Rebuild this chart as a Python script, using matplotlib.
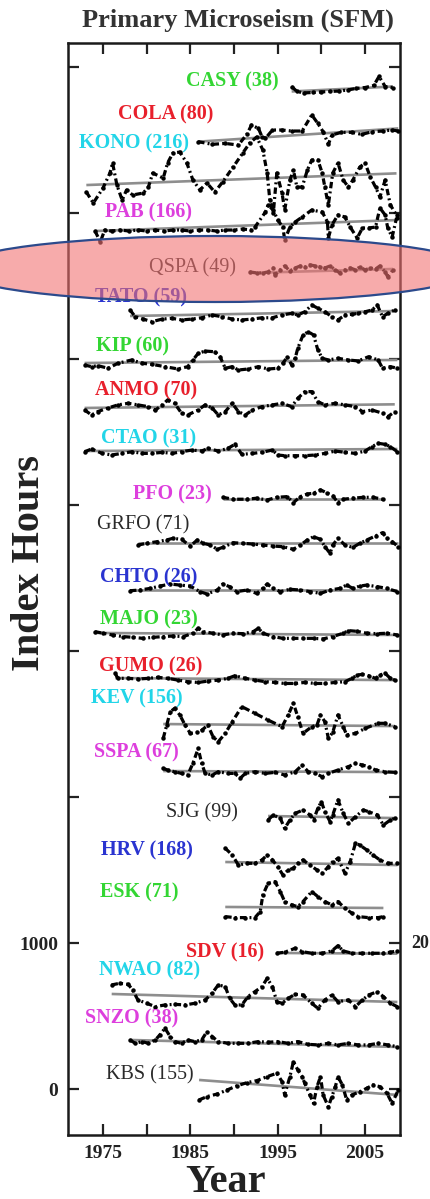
import matplotlib
matplotlib.use("Agg")
import matplotlib.pyplot as plt
from matplotlib.patches import Ellipse

plt.rcParams.update({
    "font.family": ["Liberation Serif", "DejaVu Serif"],
    "font.weight": "bold",
})

# stations, top to bottom: name, number of events
names = ["CASY", "COLA", "KONO", "PAB", "QSPA", "TATO", "KIP", "ANMO", "CTAO", "PFO",
         "GRFO", "CHTO", "MAJO", "GUMO", "KEV", "SSPA", "SJG", "HRV", "ESK", "SDV",
         "NWAO", "SNZO", "KBS"]
counts = [38, 80, 216, 166, 49, 59, 60, 70, 31, 23, 71, 26, 23, 26, 156, 67, 99, 168, 71, 16, 82, 38, 155]

# stacking offset of each trace (index hours at the start of its trend line)
offsets = [6833, 6489, 6192, 5877, 5590, 5295, 4973, 4665, 4370, 4042, 3740, 3418,
           3124, 2815, 2500, 2178, 1870, 1555, 1247, 932, 651, 336, 62]
# change of the fitted trend over the record (index hours)
trend_change = [34, 91, 80, 75, 27, 34, 21, 25, 14, 0, 0, 0, -14, -14, -14, -7, -14,
                -21, -7, -5, -55, -48, -103]

casy_years = [1996.6, 1997.2, 1998.0, 1999.0, 2000.0, 2001.0, 2002.0, 2003.0, 2004.0, 2005.0,
              2006.0, 2006.6, 2007.3, 2008.2]
casy_anom = [34, 0, -10, -7, -3, 0, 3, 10, 21, 27, 41, 103, 34, 27]

cola_years = [1985.9, 1987.5, 1989.0, 1990.5, 1991.5, 1992.0, 1992.8, 1993.2, 1993.6, 1994.4,
              1995.5, 1996.6, 1997.8, 1998.9, 1999.6, 2000.2, 2000.8, 2001.2, 2002.3, 2003.5,
              2004.6, 2005.8, 2007.0, 2008.1, 2008.8]
cola_anom = [0, -18, -12, -23, 53, 114, 91, 34, 23, 80, 80, 73, 73, 183, 125, 68, -18, 46, 64,
             64, 50, 68, 73, 80, 73]

kono_years = [1973.1, 1973.9, 1975.0, 1975.8, 1976.1, 1976.6, 1977.2, 1977.7, 1978.4, 1979.6,
              1980.2, 1980.7, 1981.9, 1982.4, 1983.0, 1983.8, 1984.6, 1985.3, 1986.1, 1986.9,
              1987.8, 1988.7, 1989.9, 1991.0, 1991.8, 1992.6, 1993.3, 1993.8, 1994.1, 1994.5,
              1994.9, 1995.5, 1995.8, 1996.4, 1996.8, 1997.2, 1997.8, 1998.4, 1998.9, 1999.6,
              2000.1, 2000.4, 2000.8, 2001.3, 2001.9, 2002.5, 2003.1, 2003.6, 2004.4, 2005.0,
              2005.6, 2006.2, 2006.7, 2007.3, 2007.9, 2008.6]
kono_anom = [-48, -123, -21, 82, 151, 0, -103, -34, -68, -55, -14, 82, 48, 151, 219, 226, 151,
             34, -34, 14, -48, 21, 123, 219, 288, 329, 240, 82, -103, -192, 82, -55, -171, 34,
             103, -14, -14, 103, 171, 171, 82, -14, -137, 82, 151, 34, -14, 34, 123, 151, 55,
             -14, -82, 34, -137, -206]

pab_years = [1974.1, 1974.7, 1975.2, 1976.0, 1977.0, 1978.0, 1979.0, 1980.0, 1981.0, 1982.0,
             1983.0, 1984.0, 1985.0, 1986.0, 1987.0, 1988.0, 1989.0, 1990.0, 1991.0, 1992.0,
             1992.4, 1993.6, 1993.9, 1994.5, 1995.0, 1995.6, 1995.8, 1996.4, 1997.0, 1997.8,
             1998.9, 2000.1, 2000.7, 2000.8, 2001.2, 2001.9, 2002.7, 2003.3, 2004.1, 2004.7,
             2005.4, 2006.2, 2006.7, 2007.3, 2007.6, 2008.1, 2008.6]
pab_anom = [0, -75, 7, 0, 7, 0, 7, 0, 7, 0, 7, 7, 0, 7, 7, 0, 7, 7, 14, 7, 27, 130, 178, 144,
            75, 27, -62, 27, 62, 96, 144, 130, 62, -48, 41, 110, 96, 27, -48, 21, 21, 27, 158,
            110, 21, -41, 89]

qspa_years = [1991.8, 1992.6, 1993.3, 1993.9, 1994.5, 1994.7, 1995.3, 1995.8, 1996.4, 1997.0,
              1997.6, 1998.1, 1998.7, 1999.3, 1999.9, 2000.4, 2001.0, 2001.6, 2002.1, 2002.7,
              2003.3, 2003.9, 2004.4, 2005.0, 2005.6, 2006.2, 2006.7, 2007.3, 2007.6, 2008.2]
qspa_anom = [7, 0, 0, 7, 34, -14, 21, 48, 14, 34, 48, 41, 55, 48, 41, 34, 48, 21, 0, 21, 34,
             21, 41, 21, 34, 27, 48, 7, -27, 21]

tato_years = [1978.1, 1978.7, 1979.6, 1980.6, 1981.8, 1982.9, 1984.0, 1985.2, 1986.3, 1987.5,
              1988.6, 1989.8, 1990.9, 1992.1, 1993.2, 1994.4, 1995.5, 1996.6, 1997.3, 1998.1,
              1998.9, 1999.6, 2000.4, 2001.2, 2001.9, 2002.7, 2003.5, 2004.2, 2005.0, 2005.8,
              2006.4, 2007.0, 2007.6, 2008.4]
tato_anom = [41, -5, -21, -39, -21, -16, -27, -21, -12, 7, -5, -21, -27, -21, -12, -12, 7, 18,
             7, 29, 75, 53, 29, -5, -27, 7, 12, 18, 29, 41, 75, -5, 18, 41]

kip_years = [1972.9, 1973.7, 1974.4, 1975.6, 1976.7, 1978.3, 1979.5, 1980.6, 1982.1, 1983.6,
             1984.7, 1985.3, 1985.9, 1986.7, 1987.8, 1988.4, 1989.0, 1989.8, 1990.5, 1991.6,
             1992.8, 1993.9, 1995.0, 1995.6, 1996.1, 1996.6, 1997.0, 1997.3, 1997.9, 1998.5,
             1999.1, 1999.6, 2000.1, 2000.8, 2001.9, 2003.1, 2004.2, 2005.4, 2006.5, 2007.0,
             2007.9, 2008.7]
kip_anom = [-14, -25, -18, -36, -2, 21, -2, -9, -25, -41, -25, 21, 66, 82, 77, 43, -36, -25,
            -48, -41, -25, -41, -36, -2, 43, -14, 32, 101, 192, 214, 192, 89, 32, 21, 32, 21,
            14, 43, 21, -36, -25, -36]

anmo_years = [1972.9, 1973.7, 1974.4, 1975.6, 1976.7, 1977.9, 1979.0, 1980.2, 1981.0, 1981.8,
              1982.4, 1983.2, 1984.0, 1984.7, 1985.9, 1986.7, 1987.5, 1988.2, 1989.0, 1989.8,
              1990.5, 1991.3, 1992.1, 1993.2, 1994.4, 1995.5, 1996.6, 1997.3, 1998.1, 1998.9,
              1999.6, 2000.4, 2001.6, 2002.7, 2003.9, 2004.7, 2005.8, 2007.0, 2007.6, 2008.4]
anmo_anom = [-14, -48, -25, 0, 21, 32, 21, 9, -14, 21, 55, 32, -36, -48, -14, 21, 0, -48, -25,
             32, -25, -48, -14, 9, 21, 32, 9, 66, 112, 112, 43, 21, 32, 21, 9, -25, -14, -36,
             -60, -25]

ctao_years = [1972.9, 1973.7, 1974.9, 1976.0, 1977.2, 1978.3, 1979.5, 1980.6, 1981.8, 1982.9,
              1984.0, 1985.2, 1986.3, 1987.0, 1988.2, 1989.3, 1990.1, 1990.9, 1992.1, 1993.2,
              1994.4, 1995.0, 1995.8, 1997.0, 1998.1, 1999.3, 2000.4, 2001.6, 2002.7, 2003.9,
              2005.0, 2005.8, 2006.5, 2007.3, 2007.9, 2008.7]
ctao_anom = [-5, 14, -16, -27, -16, -5, -16, -16, -9, -16, -5, 7, 0, 18, 0, 18, 46, -23, -16,
             -9, 7, -27, -32, -32, -32, -27, -16, 0, -9, -16, 0, 30, 53, 46, 30, -5]

pfo_years = [1988.7, 1989.9, 1991.5, 1992.6, 1993.8, 1994.9, 1996.1, 1996.8, 1997.6, 1998.4,
             1999.1, 1999.9, 2000.7, 2001.3, 2001.9, 2002.5, 2003.6, 2004.8, 2005.9, 2007.0]
pfo_anom = [11, -2, -2, 5, -7, 11, 16, -25, 16, 34, 39, 62, 39, 21, -25, -2, 5, 11, 11, -2]

grfo_years = [1979.0, 1980.0, 1981.2, 1982.3, 1983.0, 1984.0, 1985.0, 1985.8, 1986.5, 1987.3,
              1988.1, 1988.7, 1989.9, 1991.0, 1992.2, 1993.3, 1994.5, 1995.6, 1996.8, 1997.6,
              1998.4, 1999.1, 1999.9, 2000.4, 2001.0, 2001.3, 2001.9, 2002.7, 2003.6, 2004.4,
              2005.2, 2006.2, 2007.0, 2007.5, 2008.1, 2008.8]
grfo_anom = [-14, -2, 9, 21, 32, 25, -21, 21, -2, -14, -43, -30, 2, -2, -7, -14, -21, -25, -43,
             -14, 21, 43, 25, -25, -71, -14, 32, -14, -30, -2, 21, 48, 71, 32, 9, -25]

chto_years = [1978.1, 1979.2, 1980.4, 1981.5, 1982.7, 1983.8, 1985.0, 1986.1, 1986.9, 1988.1,
              1988.7, 1989.5, 1990.3, 1991.5, 1992.6, 1993.3, 1993.8, 1994.5, 1995.3, 1996.4,
              1997.6, 1998.7, 1999.9, 2001.0, 2002.1, 2002.9, 2003.6, 2004.4, 2005.2, 2006.4,
              2007.5, 2008.7]
chto_anom = [-5, 0, 11, 27, 41, 34, 27, -11, -27, 0, 41, 23, -11, 0, -23, 11, 41, 11, -11, 5, 0,
             -11, -23, 0, 11, 34, 11, 27, 34, 23, 11, -11]

majo_years = [1974.1, 1975.0, 1976.1, 1977.3, 1978.4, 1979.6, 1980.7, 1981.9, 1983.0, 1984.2,
              1985.3, 1985.9, 1986.5, 1987.6, 1988.7, 1989.9, 1991.0, 1992.2, 1992.8, 1993.3,
              1994.5, 1995.6, 1996.8, 1997.9, 1999.1, 2000.2, 2001.3, 2002.5, 2003.1, 2004.1,
              2005.2, 2006.4, 2007.5, 2008.7]
majo_anom = [9, -2, -14, -25, -30, -37, -30, -25, -21, -25, -2, 32, 9, -2, -14, -2, -5, 9, 32,
             -2, -25, -37, -37, -37, -37, -41, -25, -2, 16, 11, -2, -5, -2, -14]

gumo_years = [1976.4, 1976.7, 1977.9, 1979.0, 1980.2, 1981.3, 1982.4, 1983.6, 1984.7, 1985.9,
              1987.0, 1988.2, 1989.3, 1990.1, 1991.3, 1992.4, 1993.6, 1994.7, 1995.8, 1997.0,
              1998.1, 1999.3, 2000.4, 2001.6, 2002.7, 2003.5, 2004.1, 2004.7, 2005.4, 2006.2,
              2006.7, 2007.3, 2007.9, 2008.4]
gumo_anom = [32, -2, -2, -7, -2, 5, -2, -14, -25, -30, -21, -14, -2, 16, -2, -14, -25, -30,
             -37, -37, -30, -37, -37, -30, -25, -2, 21, 25, 16, -2, 21, 32, -2, -14]

kev_years = [1981.9, 1982.3, 1982.7, 1983.2, 1983.8, 1984.4, 1985.0, 1985.8, 1986.3, 1987.0,
             1987.6, 1988.2, 1989.0, 1989.8, 1990.9, 1992.4, 1993.9, 1995.5, 1996.2, 1996.8,
             1997.3, 1997.9, 1998.9, 1999.5, 1999.9, 2000.4, 2000.8, 2001.3, 2001.9, 2002.5,
             2002.9, 2003.9, 2005.0, 2006.5, 2007.3, 2008.4]
kev_anom = [-98, -7, 84, 107, 62, -7, -64, -57, -43, -7, -87, -121, -64, 16, 119, 73, 27, -18,
            62, 142, 50, -64, -18, -7, 62, 16, -98, -57, 62, -18, -75, -64, -30, 5, 5, -18]

sspa_years = [1981.9, 1982.4, 1983.2, 1984.0, 1984.7, 1985.3, 1985.9, 1986.3, 1986.7, 1987.5,
              1988.2, 1989.3, 1990.1, 1990.7, 1991.3, 1992.4, 1993.6, 1994.7, 1995.8, 1997.0,
              1997.8, 1998.5, 1999.3, 2000.1, 2000.8, 2001.9, 2003.1, 2003.9, 2004.7, 2005.4,
              2006.2, 2007.3, 2008.4]
sspa_anom = [18, 7, -5, -16, -27, 53, 155, 53, -16, -27, -5, -16, -16, -50, -16, -5, -16, -9,
             -27, -5, 41, -5, -16, -39, -16, 7, 30, 53, 41, 30, 7, -5, -9]

sjg_years = [1993.9, 1994.5, 1995.3, 1995.8, 1996.4, 1997.0, 1997.9, 1998.7, 1999.1, 1999.6,
             2000.0, 2000.4, 2001.0, 2001.3, 2001.9, 2002.5, 2003.1, 2003.9, 2004.8, 2005.4,
             2006.4, 2007.1, 2007.9, 2008.4]
sjg_anom = [-27, 7, -16, -85, -27, 18, 41, 7, -27, 53, 98, 30, -39, 7, 110, 18, -50, -5, 41, 30,
            7, -62, -27, -16]

hrv_years = [1989.0, 1989.8, 1990.5, 1991.5, 1992.4, 1993.2, 1993.8, 1994.4, 1995.0, 1995.6,
             1996.2, 1996.8, 1997.3, 1997.9, 1998.7, 1999.5, 2000.1, 2000.8, 2001.3, 2001.9,
             2002.7, 2003.3, 2003.9, 2004.4, 2005.2, 2005.9, 2006.7, 2007.6, 2008.7]
hrv_anom = [94, 48, -21, -9, -9, 14, 48, 14, -32, -89, -55, -43, -9, 14, -21, -55, -78, -32, 2,
            25, -78, 2, 128, 116, 82, 48, 14, -9, -9]

esk_years = [1989.0, 1990.1, 1991.3, 1992.4, 1993.0, 1993.3, 1993.9, 1994.7, 1995.3, 1995.8,
             1996.6, 1997.3, 1997.9, 1998.9, 1999.6, 2000.4, 2001.2, 2001.9, 2002.7, 2003.5,
             2004.2, 2005.4, 2006.5, 2007.1]
esk_anom = [-66, -73, -73, -73, -32, 82, 162, 173, 105, 37, 14, 2, 37, 105, 71, 37, 14, 37, -9,
            -43, -66, -73, -73, -66]

sdv_years = [1994.9, 1995.8, 1997.0, 1997.8, 1998.9, 2000.1, 2001.2, 2001.9, 2002.5, 2003.5,
             2004.7, 2005.8, 2007.0, 2007.9, 2008.7]
sdv_anom = [-2, 5, 32, 9, -2, -2, 14, 50, 14, -2, -2, -2, -2, 5, 14]

nwao_years = [1976.0, 1976.9, 1977.9, 1978.4, 1979.0, 1980.0, 1981.0, 1982.1, 1983.2, 1984.4,
              1985.5, 1986.7, 1987.5, 1988.2, 1989.0, 1989.5, 1990.1, 1990.9, 1991.6, 1992.4,
              1993.2, 1993.8, 1994.4, 1994.9, 1995.5, 1996.2, 1997.0, 1997.9, 1998.9, 1999.6,
              2000.4, 2001.2, 2001.9, 2003.1, 2003.9, 2004.7, 2005.4, 2006.4, 2007.1, 2007.9,
              2008.7]
nwao_anom = [62, 73, 66, 27, -41, -64, -87, -75, -71, -75, -64, -41, 5, 62, 50, -30, -75, -75,
             -18, 16, 50, 107, 50, -53, -64, -30, -2, -7, -64, -98, -41, -7, -53, -41, -87, -41,
             -7, 16, -18, -64, -87]

snzo_years = [1978.1, 1978.7, 1979.5, 1980.2, 1981.0, 1981.5, 1982.1, 1982.7, 1983.2, 1984.0,
              1984.7, 1985.5, 1986.3, 1986.9, 1987.5, 1988.2, 1989.3, 1990.5, 1991.6, 1992.8,
              1993.9, 1995.0, 1996.2, 1997.3, 1998.5, 1999.6, 2000.8, 2001.9, 2003.1, 2004.2,
              2005.4, 2006.5, 2007.6, 2008.7]
snzo_anom = [0, -23, -11, -23, 0, 34, 80, 23, -11, -23, 0, -11, 0, 57, 23, -11, -23, -23, -23,
             -11, -16, -11, -23, -11, -30, -34, -23, -34, -23, -34, -34, -23, -34, -46]

kbs_years = [1986.0, 1986.9, 1988.1, 1989.2, 1990.3, 1991.5, 1992.6, 1993.8, 1994.9, 1995.5,
             1995.8, 1996.4, 1996.8, 1997.3, 1997.8, 1998.1, 1998.7, 1999.1, 1999.5, 1999.9,
             2000.2, 2000.8, 2001.2, 2001.6, 2001.9, 2002.4, 2002.9, 2003.5, 2004.4, 2005.2,
             2005.9, 2006.7, 2007.5, 2008.1, 2008.8]
kbs_anom = [-137, -114, -96, -69, -41, -18, -5, 23, 46, -11, -103, 23, 126, 69, 23, -23, -103,
            -160, -46, 23, -103, -183, -114, -46, 23, -34, -137, -103, -80, -57, -34, -46, -91,
            -160, -69]

series_years = [casy_years, cola_years, kono_years, pab_years, qspa_years, tato_years,
                kip_years, anmo_years, ctao_years, pfo_years, grfo_years, chto_years,
                majo_years, gumo_years, kev_years, sspa_years, sjg_years, hrv_years,
                esk_years, sdv_years, nwao_years, snzo_years, kbs_years]
series_anom = [casy_anom, cola_anom, kono_anom, pab_anom, qspa_anom, tato_anom, kip_anom,
               anmo_anom, ctao_anom, pfo_anom, grfo_anom, chto_anom, majo_anom, gumo_anom,
               kev_anom, sspa_anom, sjg_anom, hrv_anom, esk_anom, sdv_anom, nwao_anom,
               snzo_anom, kbs_anom]

# label style: colour cycle green, red, cyan, magenta, black, blue
cycle_colors = ["#33d633", "#e8202c", "#22d5e8", "#dd3fdd", "#2a2a2a", "#2a34d0"]
# label anchor (year, index hours)
label_pos = [(1989.8, 6898), (1982.2, 6672), (1978.6, 6480), (1980.2, 6001), (1985.2, 5624),
             (1979.4, 5425), (1978.4, 5083), (1979.9, 4788), (1980.2, 4453), (1982.9, 4069),
             (1979.6, 3863), (1980.2, 3507), (1980.3, 3213), (1980.5, 2891), (1978.9, 2678),
             (1978.8, 2302), (1986.3, 1891), (1980.0, 1637), (1979.1, 1343), (1989.0, 932),
             (1980.3, 815), (1978.3, 486), (1980.4, 96)]

fig = plt.figure(figsize=(4.31, 11.99), dpi=100)
ax = fig.add_axes([68 / 431, 1 - 1135 / 1199, 332 / 431, 1092 / 1199])

for i, name in enumerate(names):
    yrs = series_years[i]
    vals = [offsets[i] + a for a in series_anom[i]]
    ax.plot([yrs[0], yrs[-1]], [offsets[i], offsets[i] + trend_change[i]],
            color="#8e8e8e", lw=1.9, solid_capstyle="butt", zorder=2)
    ax.plot(yrs, vals, color="black", lw=2.3, ls=(0, (2.0, 1.0, 0.6, 1.0)),
            marker="o", ms=2.2, zorder=3)
    col = cycle_colors[i % 6]
    weight = "normal" if i % 6 == 4 else "bold"
    ax.text(label_pos[i][0], label_pos[i][1], f"{name} ({counts[i]})", color=col,
            fontsize=14.5, fontweight=weight, ha="center", va="center", zorder=4)

ax.set_xlim(1971.0, 2009.0)
ax.set_ylim(-315, 7165)
ax.set_xticks(range(1975, 2010, 5))
ax.set_xticklabels(["1975", "", "1985", "", "1995", "", "2005"])
ax.set_yticks(range(0, 8000, 1000))
ax.set_yticklabels(["0", "1000", "", "", "", "", "", ""])
ax.tick_params(direction="in", top=True, right=True, length=8, width=1.6,
               labelsize=14, colors="#222222", pad=7)
for s in ax.spines.values():
    s.set_linewidth(1.8)
    s.set_color("#1a1a1a")

fig.text(238 / 431, 1 - 20 / 1199, "Primary Microseism (SFM)", ha="center", va="center",
         fontsize=19, fontweight="bold", color="#333333")
fig.text(30 / 431, 1 - 563 / 1199, "Index Hours", rotation=90, ha="center", va="center",
         fontsize=29, fontweight="bold", color="#222222")
fig.text(225 / 431, 1 - 1182 / 1199, "Year", ha="center", va="center",
         fontsize=29, fontweight="bold", color="#222222")
# start of a tick label of the neighbouring panel, at the image edge
fig.text(429 / 431, 1 - 943 / 1199, "20", ha="right", va="center",
         fontsize=13, fontweight="bold", color="#222222")

# highlight around QSPA
hl = Ellipse((215 / 431, 1 - 269 / 1199), 520 / 431, 66 / 1199, transform=fig.transFigure,
             facecolor=(0.95, 0.45, 0.45, 0.6), edgecolor="#2c4a8c", lw=1.6, zorder=10,
             clip_on=False)
fig.patches.append(hl)

fig.savefig("out.png", dpi=100)
